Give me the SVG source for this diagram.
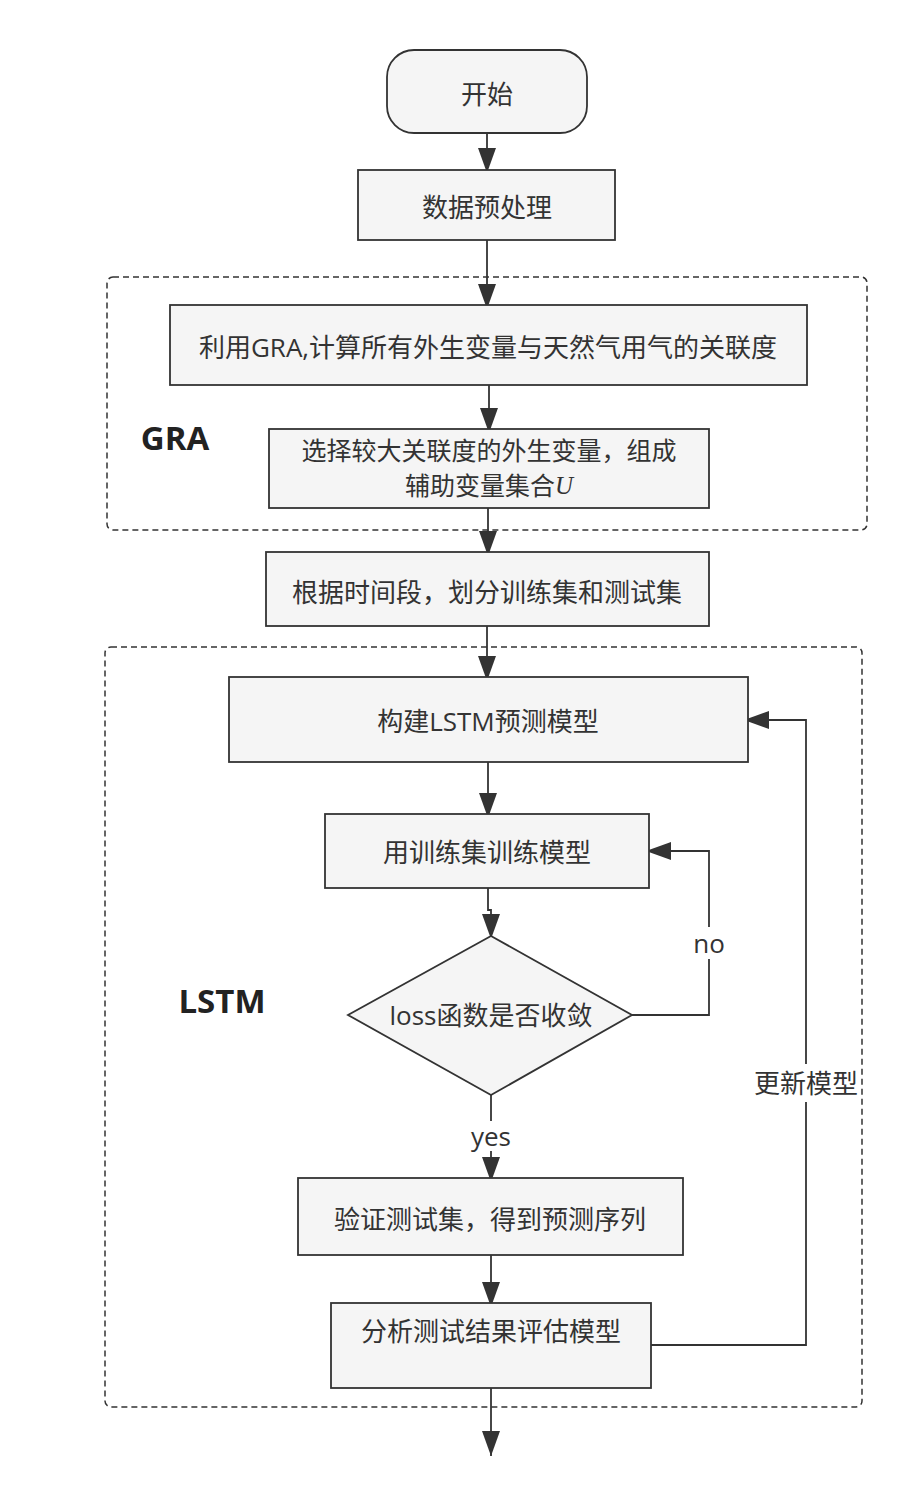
<svg xmlns="http://www.w3.org/2000/svg" width="917" height="1495" viewBox="0 0 917 1495">
<defs>
<marker id="arr" markerUnits="userSpaceOnUse" markerWidth="26" markerHeight="18" refX="25" refY="9" orient="auto">
<path d="M0,0 L25,9 L0,18 z" fill="#333"/>
</marker>
<style>
.box{fill:#f5f5f5;stroke:#333;stroke-width:1.8}
.grp{fill:none;stroke:#333;stroke-width:1.5;stroke-dasharray:6 4}
.t{font-family:"Open Sans","Noto Sans CJK SC",sans-serif;font-size:26px;fill:#333;text-anchor:middle;dominant-baseline:central}
.s{font-family:"Open Sans","Noto Sans CJK SC",sans-serif;font-size:25px;fill:#333;text-anchor:middle;dominant-baseline:central}
.b{font-family:"Open Sans","Noto Sans CJK SC",sans-serif;font-size:33px;font-weight:bold;fill:#222;text-anchor:middle;dominant-baseline:central}
.c{fill:none;stroke:#333;stroke-width:1.8}
.lbg{fill:#fff;stroke:none}
</style>
</defs>
<rect width="917" height="1495" fill="#fff"/>
<g id="group-gra">
<rect class="grp" x="107" y="277" width="760" height="253" rx="6"/>
<text class="b" x="175" y="437">GRA</text>
</g>
<g id="group-lstm">
<rect class="grp" x="105" y="647" width="757" height="760" rx="6"/>
<text class="b" x="222" y="1000">LSTM</text>
</g>
<g id="connectors">
<path class="c" d="M487,133 V173" marker-end="url(#arr)"/>
<path class="c" d="M487,240 V309" marker-end="url(#arr)"/>
<path class="c" d="M489,385 V433" marker-end="url(#arr)"/>
<path class="c" d="M488,508 V556" marker-end="url(#arr)"/>
<path class="c" d="M487,626 V681" marker-end="url(#arr)"/>
<path class="c" d="M488,762 V818" marker-end="url(#arr)"/>
<path class="c" d="M488,888 V910 H491 V939" marker-end="url(#arr)"/>
<path class="c" d="M491,1095 V1182" marker-end="url(#arr)"/>
<path class="c" d="M491,1255 V1307" marker-end="url(#arr)"/>
<path class="c" d="M491,1388 V1456" marker-end="url(#arr)"/>
<path class="c" d="M632,1015 H709 V851 H646" marker-end="url(#arr)"/>
<path class="c" d="M651,1345 H806 V720 H744" marker-end="url(#arr)"/>
<rect class="lbg" x="692" y="927" width="34" height="32"/>
<text class="t" x="709" y="943">no</text>
<rect class="lbg" x="471" y="1121" width="40" height="30"/>
<text class="t" x="491" y="1136">yes</text>
<rect class="lbg" x="754" y="1064" width="104" height="38"/>
<text class="t" x="806" y="1083">更新模型</text>
</g>
<g id="start">
<rect class="box" x="387" y="50" width="200" height="83" rx="27"/>
<text class="t" x="487" y="94">开始</text>
</g>
<g id="preprocess">
<rect class="box" x="358" y="170" width="257" height="70"/>
<text class="t" x="487" y="207">数据预处理</text>
</g>
<g id="gra-calc">
<rect class="box" x="170" y="305" width="637" height="80"/>
<text class="t" x="488" y="347">利用GRA,计算所有外生变量与天然气用气的关联度</text>
</g>
<g id="select-vars">
<rect class="box" x="269" y="429" width="440" height="79"/>
<text class="s" x="489" y="450">选择较大关联度的外生变量，组成</text>
<text class="s" x="489" y="485">辅助变量集合<tspan font-family="Liberation Serif" font-style="italic">U</tspan></text>
</g>
<g id="split">
<rect class="box" x="266" y="552" width="443" height="74"/>
<text class="t" x="487" y="592">根据时间段，划分训练集和测试集</text>
</g>
<g id="build-lstm">
<rect class="box" x="229" y="677" width="519" height="85"/>
<text class="t" x="488" y="721">构建LSTM预测模型</text>
</g>
<g id="train">
<rect class="box" x="325" y="814" width="324" height="74"/>
<text class="t" x="487" y="852">用训练集训练模型</text>
</g>
<g id="converge">
<polygon class="box" points="491,936 632,1015 491,1095 348,1015"/>
<text class="t" x="491" y="1015">loss函数是否收敛</text>
</g>
<g id="validate">
<rect class="box" x="298" y="1178" width="385" height="77"/>
<text class="t" x="490" y="1219">验证测试集，得到预测序列</text>
</g>
<g id="evaluate">
<rect class="box" x="331" y="1303" width="320" height="85"/>
<text class="t" x="491" y="1331">分析测试结果评估模型</text>
</g>
</svg>
